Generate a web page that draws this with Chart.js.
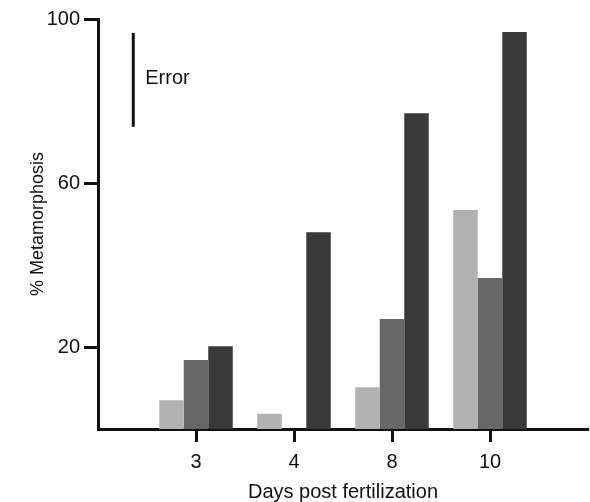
<!DOCTYPE html>
<html>
<head>
<meta charset="utf-8">
<script src="https://cdn.jsdelivr.net/npm/chart.js@4"></script>
<style>
  html, body { margin: 0; padding: 0; background: #fff; }
  #wrap { width: 590px; height: 502px; }
</style>
</head>
<body>
<div id="wrap"><canvas id="myChart"></canvas></div>
<script>
// data
var days        = ['3', '4', '8', '10'];
var seriesLight = [7, 3.7, 10.2, 53.4];
var seriesMid   = [16.8, null, 26.8, 36.8];
var seriesDark  = [20.2, 48, 77, 96.8];
var yTicks      = [20, 60, 100];
var errorRange  = [73.7, 96.6];

// empty slot on each side so the days sit like in the figure
var labels = [''].concat(days, ['']);
function pad(arr) { return [null].concat(arr, [null]); }

var ink = '#111';
var fontFamily = '"Liberation Sans", Arial, sans-serif';

// vertical "Error" scale bar
const errorBar = {
    id: 'errorBar',
    afterDatasetsDraw(chart) {
        const x = chart.scales.x.getPixelForValue(0.36);
        const y = chart.scales.y;
        const ctx = chart.ctx;
        ctx.save();
        ctx.strokeStyle = ink;
        ctx.lineWidth = 3;
        ctx.beginPath();
        ctx.moveTo(x, y.getPixelForValue(errorRange[0]));
        ctx.lineTo(x, y.getPixelForValue(errorRange[1]));
        ctx.stroke();
        ctx.fillStyle = ink;
        ctx.font = '20px ' + fontFamily;
        ctx.textBaseline = 'middle';
        ctx.fillText('Error', x + 12, y.getPixelForValue((errorRange[0] + errorRange[1]) / 2) - 1);
        ctx.restore();
    }
};

Chart.defaults.font.family = fontFamily;
Chart.defaults.font.size = 20;
Chart.defaults.color = ink;

const data = {
    labels: labels,
    datasets: [
        {label: 'a', data: pad(seriesLight), backgroundColor: '#b2b1b1'},
        {label: 'b', data: pad(seriesMid),   backgroundColor: '#676767'},
        {label: 'c', data: pad(seriesDark),  backgroundColor: '#393a38'}
    ]
};

const config = {
    type: 'bar',
    data: data,
    plugins: [errorBar],
    options: {
        responsive: true,
        maintainAspectRatio: false,
        animation: false,
        datasets: {bar: {categoryPercentage: 0.75, barPercentage: 1.0}},
        layout: {padding: {top: 19, right: 2, left: 0, bottom: 0}},
        plugins: {legend: {display: false}, tooltip: {enabled: false}},
        scales: {
            x: {
                offset: false,
                grid: {
                    offset: false,
                    drawOnChartArea: false,
                    tickLength: 13,
                    tickWidth: 3,
                    tickColor: ctx => (ctx.tick && ctx.tick.label === '') ? 'rgba(0,0,0,0)' : ink
                },
                border: {display: true, width: 3, color: ink},
                ticks: {padding: 8, maxRotation: 0, autoSkip: false, font: {size: 20}},
                title: {display: true, text: 'Days post fertilization', font: {size: 20}, padding: {top: 4, bottom: -2}},
                afterFit: s => { s.height = 73; s.paddingLeft = 0; s.paddingRight = 0; }
            },
            y: {
                min: 0,
                max: 100,
                afterBuildTicks: s => { s.ticks = yTicks.map(v => ({value: v})); },
                grid: {drawOnChartArea: false, tickLength: 14, tickWidth: 3, tickColor: ink},
                border: {display: true, width: 3, color: ink},
                ticks: {padding: 4, font: {size: 20}},
                title: {display: true, text: '% Metamorphosis', font: {size: 18}, padding: {top: 27, bottom: 0}},
                afterFit: s => { s.width = 98; }
            }
        }
    }
};
const myChart = new Chart(document.querySelector('#myChart'), config);
</script>
</body>
</html>
